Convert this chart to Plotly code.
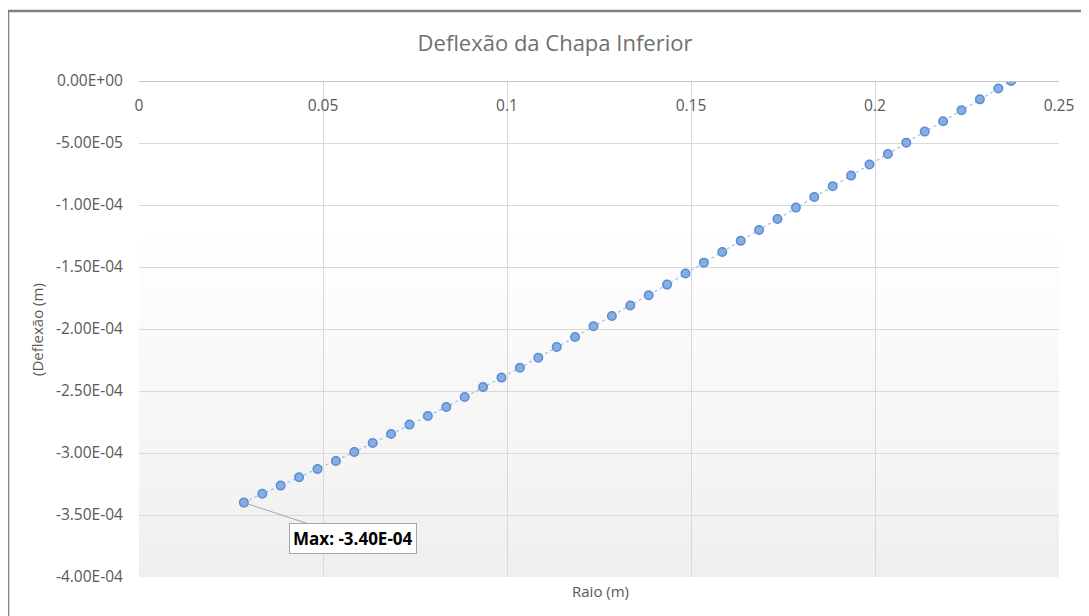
import base64
import plotly.graph_objects as go

# ---- data ----
raio_m = [0.0285, 0.0335, 0.0385, 0.0435, 0.0485, 0.0535, 0.0585, 0.0635, 0.0685, 0.0735,
          0.0785, 0.0835, 0.0885, 0.0935, 0.0985, 0.1035, 0.1085, 0.1135, 0.1185, 0.1235,
          0.1285, 0.1335, 0.1385, 0.1435, 0.1485, 0.1535, 0.1585, 0.1635, 0.1685, 0.1735,
          0.1785, 0.1835, 0.1885, 0.1935, 0.1985, 0.2035, 0.2085, 0.2135, 0.2185, 0.2235,
          0.2285, 0.2335, 0.2370]
deflexao_m = [-3.400e-4, -3.328e-4, -3.263e-4, -3.196e-4, -3.129e-4, -3.065e-4, -2.992e-4,
              -2.920e-4, -2.847e-4, -2.771e-4, -2.702e-4, -2.629e-4, -2.549e-4, -2.468e-4,
              -2.392e-4, -2.313e-4, -2.231e-4, -2.145e-4, -2.065e-4, -1.978e-4, -1.895e-4,
              -1.811e-4, -1.728e-4, -1.642e-4, -1.553e-4, -1.465e-4, -1.379e-4, -1.289e-4,
              -1.202e-4, -1.113e-4, -1.021e-4, -0.936e-4, -0.849e-4, -0.763e-4, -0.674e-4,
              -0.589e-4, -0.497e-4, -0.408e-4, -0.325e-4, -0.236e-4, -0.148e-4, -0.061e-4,
              0.0]

x_ticks = [0, 0.05, 0.1, 0.15, 0.2, 0.25]
x_tick_labels = ["0", "0.05", "0.1", "0.15", "0.2", "0.25"]
y_ticks = [0.0, -5e-5, -1e-4, -1.5e-4, -2e-4, -2.5e-4, -3e-4, -3.5e-4, -4e-4]
y_tick_labels = [f"{v:.2E}".replace("-0.00", "0.00") for v in y_ticks]

title_text = "Deflexão da Chapa Inferior"
x_title = "Raio (m)"
y_title = "(Deflexão (m)"

# page body has an 8px margin: work in target-screen pixels, shift by OFF
OFF = 8
W, H = 1089, 616
L, T = 139 - OFF, 81 - OFF
pw, ph = 920, 496
R, B = W - L - pw, H - T - ph

def px(xs):  # screen x -> paper fraction
    return (xs - OFF - L) / pw

def py(ys):  # screen y -> paper fraction
    return (T + ph - (ys - OFF)) / ph

FONT = "Open Sans"
GREY = "#595959"

fig = go.Figure()
fig.add_trace(go.Scatter(
    x=raio_m, y=deflexao_m, mode="lines+markers",
    line=dict(color="#9fbfe6", width=1.2, dash="dot"),
    marker=dict(size=8.5, color="#84aee5", line=dict(color="#5b8bd0", width=1.5)),
    showlegend=False, hoverinfo="x+y",
))

# background gradient for plot area
svg = ('<svg xmlns="http://www.w3.org/2000/svg" width="10" height="100" preserveAspectRatio="none">'
       '<defs><linearGradient id="g" x1="0" y1="0" x2="0" y2="1">'
       '<stop offset="0" stop-color="#ffffff"/><stop offset="0.3" stop-color="#ffffff"/>'
       '<stop offset="1" stop-color="#efefef"/></linearGradient></defs>'
       '<rect width="10" height="100" fill="url(#g)"/></svg>')
src = "data:image/svg+xml;base64," + base64.b64encode(svg.encode()).decode()
fig.add_layout_image(dict(source=src, xref="paper", yref="paper", x=0, y=1, sizex=1, sizey=1,
                          sizing="stretch", xanchor="left", yanchor="top", layer="below"))

imin = deflexao_m.index(min(deflexao_m))
fig.add_annotation(
    x=raio_m[imin], y=deflexao_m[imin], xref="x", yref="y",
    text=f"<b>Max: {min(deflexao_m):.2E}</b>",
    showarrow=True, arrowhead=0, arrowwidth=1, arrowcolor="#a6a6a6",
    ax=109, ay=36, bgcolor="white", bordercolor="#a6a6a6", borderwidth=1, borderpad=3,
    font=dict(family=FONT, size=17, color="#000000"),
)

# axis titles
fig.add_annotation(text=x_title, xref="paper", yref="paper", x=px(600), y=py(591),
                   xanchor="center", yanchor="middle",
                   showarrow=False, font=dict(family=FONT, size=15, color=GREY))
fig.add_annotation(text=y_title, xref="paper", yref="paper", x=px(37), y=py(330),
                   xanchor="center", yanchor="middle", textangle=-90,
                   showarrow=False, font=dict(family=FONT, size=15, color=GREY))

# outer frame
fig.add_shape(type="line", xref="paper", yref="paper", x0=px(8), x1=px(W + 20), y0=py(11), y1=py(11),
              line=dict(color="#808080", width=2.5))
fig.add_shape(type="line", xref="paper", yref="paper", x0=px(8), x1=px(8), y0=py(11), y1=py(H + 20),
              line=dict(color="#808080", width=2.5))

fig.update_layout(
    width=W, height=H,
    margin=dict(l=L, r=R, t=T, b=B),
    paper_bgcolor="white", plot_bgcolor="rgba(0,0,0,0)",
    title=dict(text=title_text, x=(555 - OFF) / W, xanchor="center", y=1 - (43 - OFF) / H,
               yanchor="middle", font=dict(family=FONT, size=22, color="#707070")),
    font=dict(family=FONT, color=GREY, size=14),
    xaxis=dict(range=[0, 0.25], tickvals=x_ticks, ticktext=x_tick_labels,
               anchor="free", position=1, side="bottom",
               showgrid=True, gridcolor="#d9d9d9", gridwidth=1,
               showline=True, linecolor="#c8c8c8", linewidth=1,
               ticks="outside", ticklen=10, tickcolor="rgba(0,0,0,0)",
               zeroline=False, tickfont=dict(family=FONT, size=15.5, color=GREY)),
    yaxis=dict(range=[-4e-4, 0], tickvals=y_ticks, ticktext=y_tick_labels,
               showgrid=True, gridcolor="#d9d9d9", gridwidth=1,
               zeroline=False, ticks="outside", ticklen=12, tickcolor="rgba(0,0,0,0)",
               tickfont=dict(family=FONT, size=15.5, color=GREY)),
)

fig.write_html("out.html")
